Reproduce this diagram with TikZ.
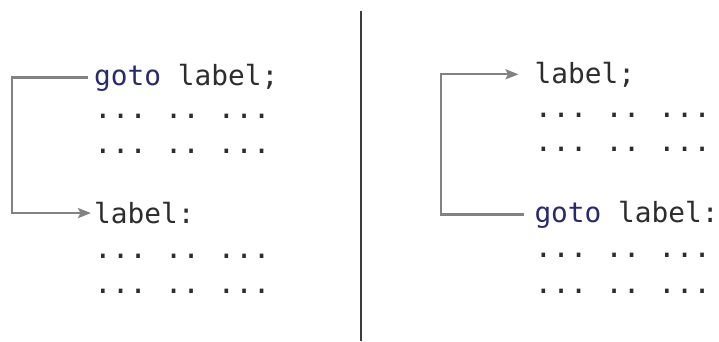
\documentclass[tikz,border=0pt]{standalone}
\usepackage{fontspec}
\newfontfamily\codefont{DejaVu Sans Mono}
\usetikzlibrary{arrows.meta}
\definecolor{codegray}{RGB}{45,45,45}
\definecolor{kwblue}{RGB}{40,42,110}
\definecolor{conngray}{RGB}{130,130,130}
\definecolor{divgray}{RGB}{60,60,60}
\tikzset{
  code/.style={anchor=base west, inner sep=0pt, text=codegray,
    font=\codefont\fontsize{29.3}{35}\selectfont\frenchspacing},
  stmt/.style={code, font=\codefont\fontsize{27.8}{35}\selectfont\frenchspacing},
  conn/.style={draw=conngray, line width=2.3pt},
  arr/.style={conn, -{Stealth[length=13pt,width=10pt,inset=2.5pt]}},
  divider/.style={draw=divgray, line width=2.2pt}
}
\newcommand{\kw}[1]{\textcolor{kwblue}{#1}}
\begin{document}
\begin{tikzpicture}[x=1pt,y=-1pt]
\useasboundingbox (0,0) rectangle (719,341);
\fill[white] (0,0) rectangle (719,341);
% divider
\coordinate (dtop) at (361,11);
\coordinate (dbot) at (361,341);
\draw[divider] (dtop) -- (dbot);
% left column
\node[stmt] (lg) at (94,85) {\kw{goto} label;};
\node[code] (l1) at (94,118) {... .. ...};
\node[code] (l2) at (94,153.5) {... .. ...};
\node[stmt] (ll) at (94,223.5) {label:};
\node[code] (l3) at (94,258.5) {... .. ...};
\node[code] (l4) at (94,293.5) {... .. ...};
% right column
\node[stmt] (rl) at (534.5,83) {label;};
\node[code] (r1) at (534.5,117) {... .. ...};
\node[code] (r2) at (534.5,151) {... .. ...};
\node[stmt] (rg) at (534.3,222) {\kw{goto} label:};
\node[code] (r3) at (534.5,257) {... .. ...};
\node[code] (r4) at (534.5,293) {... .. ...};
% connectors
\draw[arr] ([xshift=-6pt]lg.west) -- ++(-76,0) |- ([xshift=-3pt]ll.west);
\draw[arr] ([xshift=-10pt]rg.west) -- ++(-83,0) |- ([xshift=-16pt]rl.west);
\end{tikzpicture}
\end{document}
